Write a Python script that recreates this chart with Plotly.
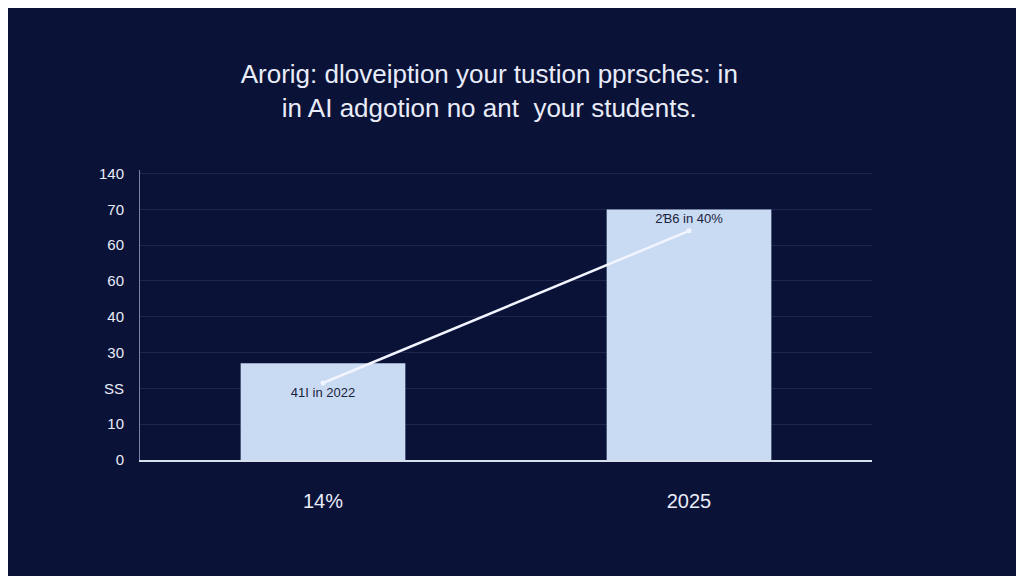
import plotly.graph_objects as go

categories = ["14%", "2025"]
bar_values = [27, 70]
line_values = [21.5, 64]
point_labels = ["41I in 2022", "2Ɓ6 in 40%"]
y_ticks = [0, 10, 20, 30, 40, 50, 60, 70, 80]
y_tick_text = ["0", "10", "SS", "30", "40", "60", "60", "70", "140"]

bg = "#0b1238"

fig = go.Figure()
fig.add_trace(go.Bar(
    x=categories, y=bar_values, width=0.45,
    marker=dict(color="#c9daf3", line=dict(width=0)),
))
fig.add_trace(go.Scatter(
    x=categories, y=line_values, mode="lines+markers+text",
    line=dict(color="#f2f5ff", width=2.5),
    marker=dict(size=5, color="#f2f5ff"),
    text=point_labels, textposition=["bottom center", "top center"],
    textfont=dict(color="#1a2340", size=13, family="Liberation Sans"),
))

fig.update_layout(
    width=1024, height=576,
    paper_bgcolor=bg, plot_bgcolor=bg,
    showlegend=False,
    margin=dict(l=132, r=160, t=162, b=124),
    font=dict(family="Liberation Sans", color="#e8ecf8"),
    title=dict(
        text="Arorig: dloveiption your tustion pprsches: in<br>in AI adgotion no ant  your students.",
        x=0.47, xanchor="center", y=0.87, yanchor="middle",
        font=dict(size=26, color="#e8ecf8"),
    ),
)
fig.update_xaxes(
    showgrid=False, showline=True, linecolor="#d8deee", linewidth=1.5,
    tickfont=dict(size=20), ticks="", ticklabelstandoff=22,
)
fig.update_yaxes(
    range=[0, 81], tickvals=y_ticks, ticktext=y_tick_text,
    showgrid=True, gridcolor="#1e2650", gridwidth=1, zeroline=False,
    showline=True, linecolor="#7a829f", linewidth=1,
    tickfont=dict(size=15), ticks="", ticklabelstandoff=12,
)

fig.write_html("out.html")
